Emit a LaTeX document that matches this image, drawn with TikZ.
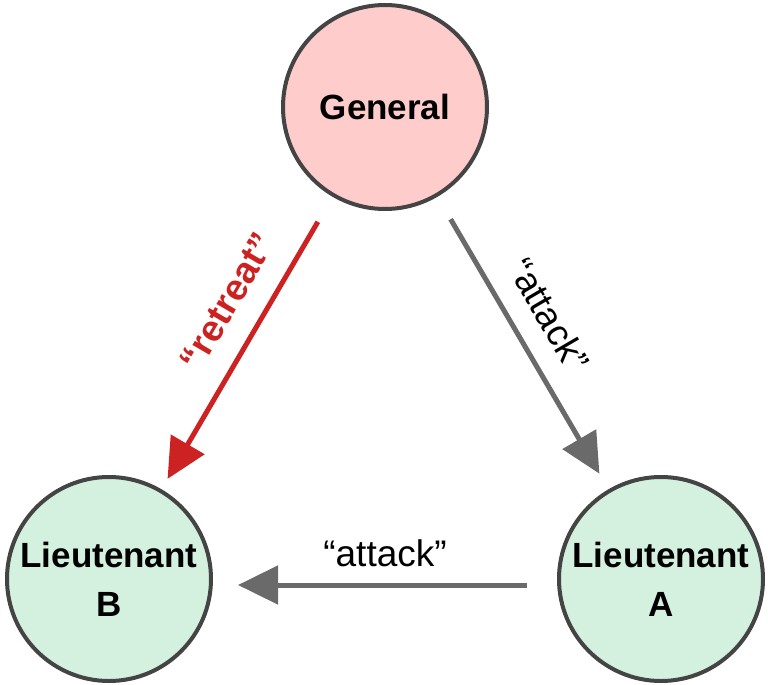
\documentclass[tikz,border=0pt]{standalone}
\usepackage{fontspec}
\setmainfont{Liberation Sans}
\usetikzlibrary{arrows.meta}
\definecolor{pinkfill}{HTML}{FFCCCC}
\definecolor{greenfill}{HTML}{D4F1E0}
\definecolor{ringgray}{HTML}{444444}
\definecolor{msgred}{HTML}{CC2222}
\definecolor{msggray}{HTML}{6A6A6A}
\tikzset{
  party/.style={circle, draw=ringgray, line width=4pt, minimum size=204pt, inner sep=0pt,
    align=center, font=\fontsize{35}{49}\selectfont\bfseries},
  msg/.style={line width=5pt, -{Triangle[length=40pt,width=38pt]}},
  msglabel/.style={font=\fontsize{37}{40}\selectfont, inner sep=0pt}
}
\begin{document}
\begin{tikzpicture}[x=1pt,y=-1pt]
\useasboundingbox (0,0) rectangle (768,685);
\node[party, fill=pinkfill] (gen) at (385,107) {General};
\node[party, fill=greenfill] (ltb) at (109,579) {Lieutenant\\B};
\node[party, fill=greenfill] (lta) at (661,579) {Lieutenant\\A};
\draw[msg, draw=msgred, fill=msgred, shorten <=29pt, shorten >=12pt] (gen) --
  node[msglabel, font=\fontsize{37}{40}\selectfont\bfseries, text=msgred, pos=0.424, sloped, above=38pt, anchor=center] {“retreat”} (ltb);
\draw[msg, draw=msggray, fill=msggray, shorten <=26pt, shorten >=18pt] (gen) --
  node[msglabel, text=black, pos=0.468, sloped, above=37pt, anchor=center] {“attack”} (lta);
\draw[msg, draw=msggray, fill=msggray, shorten <=30pt, shorten >=25pt]
  ([yshift=-6pt]lta.west) --
  node[msglabel, text=black, pos=0.5, yshift=32pt] {“attack”} ([yshift=-6pt]ltb.east);
\end{tikzpicture}
\end{document}
